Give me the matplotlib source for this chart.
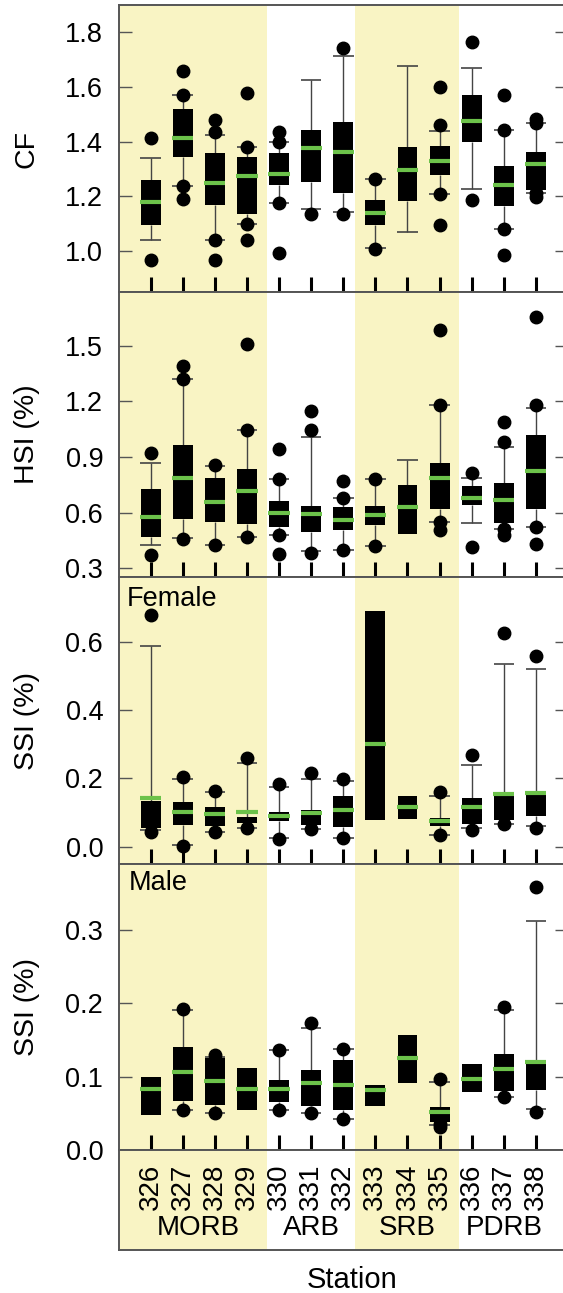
import matplotlib.pyplot as plt
from matplotlib.ticker import FormatStrFormatter

plt.rcParams['font.family'] = ['Liberation Sans', 'DejaVu Sans']

stations = ['326', '327', '328', '329', '330', '331', '332',
            '333', '334', '335', '336', '337', '338']
groups = ['MORB', 'ARB', 'SRB', 'PDRB']
group_members = [[0, 1, 2, 3], [4, 5, 6], [7, 8, 9], [10, 11, 12]]
# shaded station blocks (MORB, SRB) in station-index units
shade_spans = [(-1, 3.64), (6.38, 9.6)]

# CF
cf_lo = [1.040, 1.236, 1.039, 1.097, 1.177, 1.155, 1.143, 1.012, 1.071, 1.207, 1.228, 1.082, 1.212]
cf_q1 = [1.094, 1.343, 1.169, 1.134, 1.240, 1.252, 1.213, 1.094, 1.183, 1.279, 1.398, 1.163, 1.225]
cf_med = [1.180, 1.413, 1.247, 1.273, 1.281, 1.378, 1.364, 1.140, 1.298, 1.330, 1.474, 1.240, 1.317]
cf_q3 = [1.258, 1.518, 1.358, 1.343, 1.358, 1.441, 1.471, 1.188, 1.380, 1.385, 1.572, 1.311, 1.364]
cf_hi = [1.340, 1.572, 1.425, 1.380, 1.398, 1.626, 1.715, 1.263, 1.676, 1.440, 1.669, 1.441, 1.469]
cf_out = [[1.413, 0.966], [1.658, 1.572, 1.236, 1.189], [1.480, 1.434, 1.039, 0.968],
          [1.577, 1.380, 1.097, 1.041], [1.435, 1.400, 1.177, 0.993], [1.136],
          [1.742, 1.134], [1.263, 1.009], [], [1.599, 1.462, 1.207, 1.094],
          [1.766, 1.188], [1.569, 1.441, 1.082, 0.984], [1.484, 1.469, 1.212, 1.197]]

# HSI (%)
hsi_lo = [0.428, 0.463, 0.428, 0.472, 0.478, 0.392, 0.400, 0.419, 0.485, 0.550, 0.544, 0.512, 0.526]
hsi_q1 = [0.467, 0.569, 0.548, 0.539, 0.526, 0.499, 0.505, 0.534, 0.485, 0.623, 0.643, 0.544, 0.623]
hsi_med = [0.578, 0.787, 0.657, 0.719, 0.598, 0.595, 0.562, 0.589, 0.632, 0.785, 0.679, 0.668, 0.826]
hsi_q3 = [0.728, 0.965, 0.790, 0.835, 0.661, 0.638, 0.631, 0.638, 0.751, 0.868, 0.742, 0.760, 1.017]
hsi_hi = [0.871, 1.320, 0.850, 1.047, 0.783, 1.011, 0.679, 0.781, 0.886, 1.182, 0.787, 0.957, 1.164]
hsi_out = [[0.922, 0.374], [1.392, 1.320, 0.458], [0.859, 0.428], [1.509, 1.047, 0.472],
           [0.943, 0.783, 0.478, 0.377], [1.146, 1.047, 0.386], [0.774, 0.679, 0.400],
           [0.781, 0.419], [], [1.583, 1.182, 0.550, 0.505], [0.817, 0.413],
           [1.087, 0.979, 0.512, 0.481], [1.654, 1.180, 0.526, 0.433]]

# SSI (%) female
fem_lo = [0.050, 0.005, 0.042, 0.054, 0.024, 0.051, 0.024, 0.078, 0.080, 0.034, 0.054, 0.067, 0.059]
fem_q1 = [0.054, 0.062, 0.061, 0.069, 0.076, 0.064, 0.056, 0.078, 0.080, 0.059, 0.066, 0.078, 0.090]
fem_med = [0.142, 0.101, 0.096, 0.101, 0.091, 0.098, 0.108, 0.302, 0.115, 0.076, 0.117, 0.155, 0.157]
fem_q3 = [0.133, 0.132, 0.115, 0.088, 0.101, 0.108, 0.149, 0.690, 0.149, 0.085, 0.142, 0.149, 0.152]
fem_hi = [0.587, 0.199, 0.160, 0.245, 0.174, 0.199, 0.191, 0.690, 0.149, 0.149, 0.240, 0.536, 0.519]
fem_out = [[0.680, 0.042], [0.203, 0.003], [0.163, 0.042], [0.261, 0.054], [0.184, 0.022],
           [0.215, 0.051], [0.198, 0.024], [], [], [0.160, 0.034], [0.269, 0.049],
           [0.625, 0.067], [0.558, 0.054]]

# SSI (%) male
male_lo = [0.048, 0.055, 0.051, 0.054, 0.054, 0.050, 0.042, 0.060, 0.092, 0.034, 0.0795, 0.072, 0.056]
male_q1 = [0.048, 0.067, 0.061, 0.054, 0.066, 0.060, 0.054, 0.060, 0.092, 0.0386, 0.0795, 0.080, 0.082]
male_med = [0.083, 0.107, 0.0945, 0.083, 0.083, 0.092, 0.088, 0.082, 0.125, 0.052, 0.097, 0.110, 0.120]
male_q3 = [0.099, 0.140, 0.125, 0.112, 0.0955, 0.109, 0.123, 0.0886, 0.157, 0.058, 0.117, 0.131, 0.123]
male_hi = [0.099, 0.191, 0.127, 0.112, 0.137, 0.167, 0.138, 0.0886, 0.157, 0.093, 0.117, 0.191, 0.312]
male_out = [[], [0.192, 0.055], [0.1295, 0.051], [], [0.137, 0.054], [0.173, 0.050],
            [0.138, 0.042], [], [], [0.0964, 0.036, 0.032], [], [0.1945, 0.072], [0.359, 0.052]]

SHADE = '#f9f4c4'
GREEN = '#6cc24a'
EDGE = '#555555'
W_PX, H_PX = 563, 1293
LEFT = 118.5 / W_PX
WIDTH = (568 - 118.5) / W_PX


def pos(top, bottom):
    return [LEFT, 1 - bottom / H_PX, WIDTH, (bottom - top) / H_PX]


def shade(ax):
    for a, b in shade_spans:
        ax.axvspan(a, b, color=SHADE, lw=0, zorder=0)
    ax.set_xlim(-1, 13)
    for s in ax.spines.values():
        s.set_color(EDGE)
        s.set_linewidth(1.4)


def draw_panel(ax, lo, q1, med, q3, hi, out, ylim, yticks, label):
    shade(ax)
    x = list(range(len(stations)))
    for i in x:
        if lo[i] < q1[i]:
            ax.vlines(i, lo[i], q1[i], color='#444444', lw=1, zorder=2)
            ax.hlines(lo[i], i - 0.32, i + 0.32, color='#444444', lw=1.2, zorder=2)
        if hi[i] > q3[i]:
            ax.vlines(i, q3[i], hi[i], color='#444444', lw=1, zorder=2)
            ax.hlines(hi[i], i - 0.32, i + 0.32, color='#444444', lw=1.2, zorder=2)
        if out[i]:
            ax.plot([i] * len(out[i]), out[i], 'o', ms=9, color='black', zorder=5)
    heights = [b - a for a, b in zip(q1, q3)]
    ax.bar(x, heights, bottom=q1, width=0.62, color='black', zorder=3)
    ax.hlines(med, [i - 0.33 for i in x], [i + 0.33 for i in x], color=GREEN, lw=3, zorder=4)

    ax.set_ylim(*ylim)
    ax.set_yticks(yticks)
    ax.yaxis.set_major_formatter(FormatStrFormatter('%.1f'))
    ax.set_xticks(x)
    ax.tick_params(axis='x', direction='in', length=10.8, width=2.2, color='black',
                   labelbottom=False, top=False)
    ax.tick_params(axis='y', direction='in', length=9.5, width=1, color=EDGE,
                   left=True, right=True, labelsize=19.5, pad=11)
    ax.text(-0.2036, 0.5, label, transform=ax.transAxes, rotation=90,
            ha='center', va='center', fontsize=20.5)


fig = plt.figure(figsize=(W_PX / 100, H_PX / 100), dpi=100)

ax1 = fig.add_axes(pos(5, 292))
draw_panel(ax1, cf_lo, cf_q1, cf_med, cf_q3, cf_hi, cf_out,
           (0.85, 1.9), [1.0, 1.2, 1.4, 1.6, 1.8], 'CF')

ax2 = fig.add_axes(pos(292, 577))
draw_panel(ax2, hsi_lo, hsi_q1, hsi_med, hsi_q3, hsi_hi, hsi_out,
           (0.254, 1.79), [0.3, 0.6, 0.9, 1.2, 1.5], 'HSI (%)')

ax3 = fig.add_axes(pos(577, 864))
draw_panel(ax3, fem_lo, fem_q1, fem_med, fem_q3, fem_hi, fem_out,
           (-0.051, 0.79), [0.0, 0.2, 0.4, 0.6], 'SSI (%)')
ax3.text(0.019, 0.97, 'Female', transform=ax3.transAxes, ha='left', va='top', fontsize=19.5)

ax4 = fig.add_axes(pos(864, 1150))
draw_panel(ax4, male_lo, male_q1, male_med, male_q3, male_hi, male_out,
           (0.0, 0.39), [0.0, 0.1, 0.2, 0.3], 'SSI (%)')
ax4.text(0.022, 0.98, 'Male', transform=ax4.transAxes, ha='left', va='top', fontsize=19.5)

# station / group label strip
ax5 = fig.add_axes(pos(1150, 1250))
shade(ax5)
ax5.set_ylim(0, 1)
ax5.set_xticks([])
ax5.set_yticks([])
for i, s in enumerate(stations):
    ax5.text(i, 0.63, s, rotation=90, ha='center', va='center', fontsize=20)
for g, members in zip(groups, group_members):
    ax5.text(sum(members) / len(members), 0.22, g, ha='center', va='center', fontsize=20)

fig.text(352 / W_PX, 1 - 1280 / H_PX, 'Station', ha='center', va='center', fontsize=21)

fig.savefig('out.png', dpi=100)
